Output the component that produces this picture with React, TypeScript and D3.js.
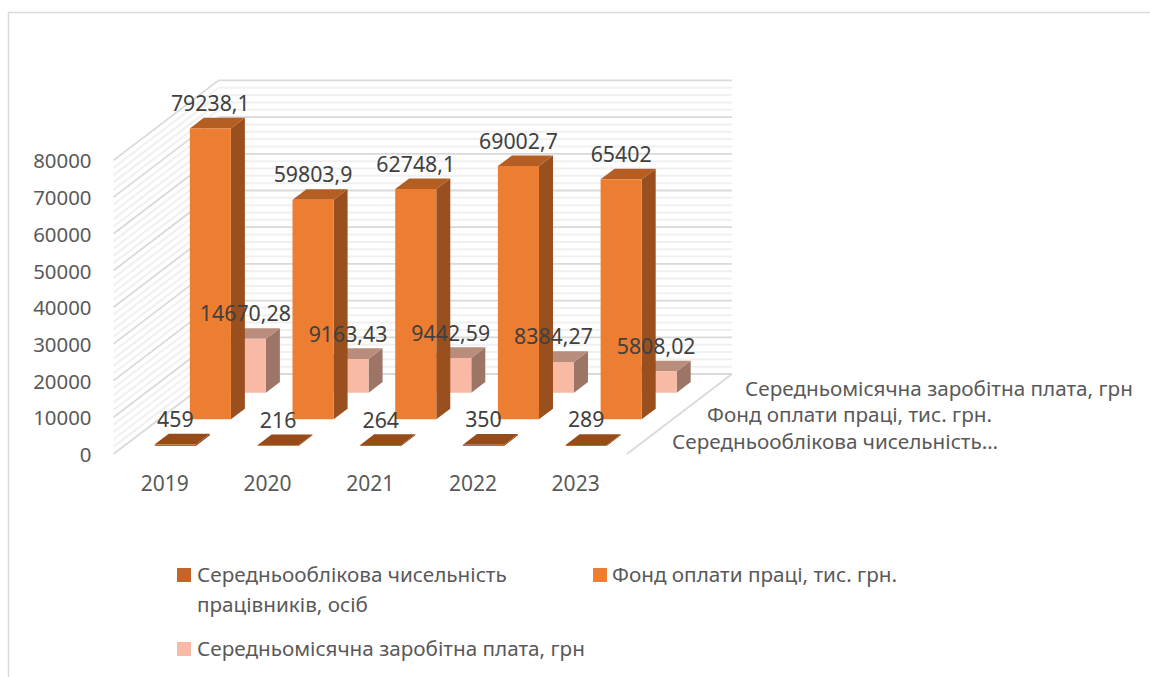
import React from "react";
import * as d3 from "d3";

const years = ["2019", "2020", "2021", "2022", "2023"];
const headcount = [459, 216, 264, 350, 289];
const payroll = [79238.1, 59803.9, 62748.1, 69002.7, 65402];
const salary = [14670.28, 9163.43, 9442.59, 8384.27, 5808.02];
const seriesNames = [
  "Середньооблікова чисельність…",
  "Фонд оплати праці, тис. грн.",
  "Середньомісячна заробітна плата, грн",
];
const yTicks = [0, 10000, 20000, 30000, 40000, 50000, 60000, 70000, 80000];
const minorTicks = d3.range(0, 80001, 2000);

const FONT = "'Noto Sans', 'Open Sans', sans-serif";
const rows = [
  { values: headcount, front: "#C4652A", side: "#964B1A", top: "#964B1A" },
  { values: payroll, front: "#ED7D31", side: "#9A501E", top: "#B55E24" },
  { values: salary, front: "#F8B9A5", side: "#9C7566", top: "#B98C7C" },
];

const xScale = d3.scaleBand<string>().domain(years).range([113.5, 627]).paddingInner(0).paddingOuter(0);
const yScale = d3.scaleLinear().domain([0, 80000]).range([454, 160.4]);
const depthX = d3.scaleLinear().domain([0, 3]).range([0, 105]);
const depthY = d3.scaleLinear().domain([0, 3]).range([0, -80]);

const project = (x: number, depth: number, value: number): [number, number] => [
  x + depthX(depth),
  yScale(value) + depthY(depth),
];
const poly = (pts: [number, number][]) => pts.map((p) => p.join(",")).join(" ");

const BAR_FRAC = 0.4;
const DEPTH_FRAC = 0.4;

export default function App() {
  const band = xScale.bandwidth();
  const barW = band * BAR_FRAC;

  const walls = minorTicks.map((v) => {
    const major = v % 10000 === 0;
    const a = project(113.5, 0, v);
    const b = project(113.5, 3, v);
    const c = project(627, 3, v);
    const stroke = major ? "#d9d9d9" : "#f0f0f0";
    const sw = major ? 1.8 : 2;
    return (
      <g key={v}>
        <line x1={a[0]} y1={a[1]} x2={b[0]} y2={b[1]} stroke={stroke} strokeWidth={sw} />
        <line x1={b[0]} y1={b[1]} x2={c[0]} y2={c[1]} stroke={stroke} strokeWidth={sw} />
      </g>
    );
  });

  const floorRight = [project(627, 0, 0), project(627, 3, 0)];

  const bars: React.ReactNode[] = [];
  const labels: React.ReactNode[] = [];
  [2, 1, 0].forEach((r) => {
    const row = rows[r];
    const d0 = r + (1 - DEPTH_FRAC) / 2;
    const d1 = d0 + DEPTH_FRAC;
    row.values.forEach((v, i) => {
      const x0 = (xScale(years[i]) as number) + (band - barW) / 2;
      const x1 = x0 + barW;
      const fbl = project(x0, d0, 0);
      const fbr = project(x1, d0, 0);
      const ftl = project(x0, d0, v);
      const ftr = project(x1, d0, v);
      const btl = project(x0, d1, v);
      const btr = project(x1, d1, v);
      const bbr = project(x1, d1, 0);
      bars.push(
        <g key={`${r}-${i}`}>
          <polygon points={poly([fbr, bbr, btr, ftr])} fill={row.side} />
          <polygon points={poly([ftl, ftr, btr, btl])} fill={row.top} />
          <polygon points={poly([fbl, fbr, ftr, ftl])} fill={row.front} />
        </g>
      );
      labels.push(
        <text
          key={`l${r}-${i}`}
          x={(ftl[0] + ftr[0]) / 2}
          y={ftl[1] - 17.5}
          textAnchor="middle"
          fontSize={21.3}
          fill="#404040"
        >
          {String(v).replace(".", ",")}
        </text>
      );
    });
  });

  return (
    <svg
      width={1150}
      height={677}
      style={{ position: "fixed", left: 0, top: 0, background: "#fff" }}
      fontFamily={FONT}
    >
      <path d="M8.5,677 V12.5 H1150" fill="none" stroke="#d9d9d9" strokeWidth={1.5} />
      {walls}
      <line
        x1={floorRight[0][0]}
        y1={floorRight[0][1]}
        x2={floorRight[1][0]}
        y2={floorRight[1][1]}
        stroke="#d9d9d9"
        strokeWidth={1.8}
      />
      {bars}
      {labels}
      {yTicks.map((t) => (
        <text key={t} x={91.5} y={yScale(t) + 8} textAnchor="end" fontSize={20.4} fill="#595959">
          {t}
        </text>
      ))}
      {years.map((y) => (
        <text
          key={y}
          x={(xScale(y) as number) + band / 2}
          y={491}
          textAnchor="middle"
          fontSize={21}
          fill="#595959"
        >
          {y}
        </text>
      ))}
      {seriesNames.map((n, i) => (
        <text key={n} x={[672, 707, 745][i]} y={[449, 422, 396][i]} fontSize={20.7} fill="#595959">
          {n}
        </text>
      ))}
      <g fontSize={20.7} fill="#595959">
        <rect x={177} y={568} width={14} height={14} fill={rows[0].front} />
        <text x={197} y={582}>Середньооблікова чисельність</text>
        <text x={197} y={612}>працівників, осіб</text>
        <rect x={593} y={568} width={14} height={14} fill={rows[1].front} />
        <text x={612} y={582}>{seriesNames[1]}</text>
        <rect x={177} y={642} width={14} height={14} fill={rows[2].front} />
        <text x={197} y={656}>{seriesNames[2]}</text>
      </g>
    </svg>
  );
}
